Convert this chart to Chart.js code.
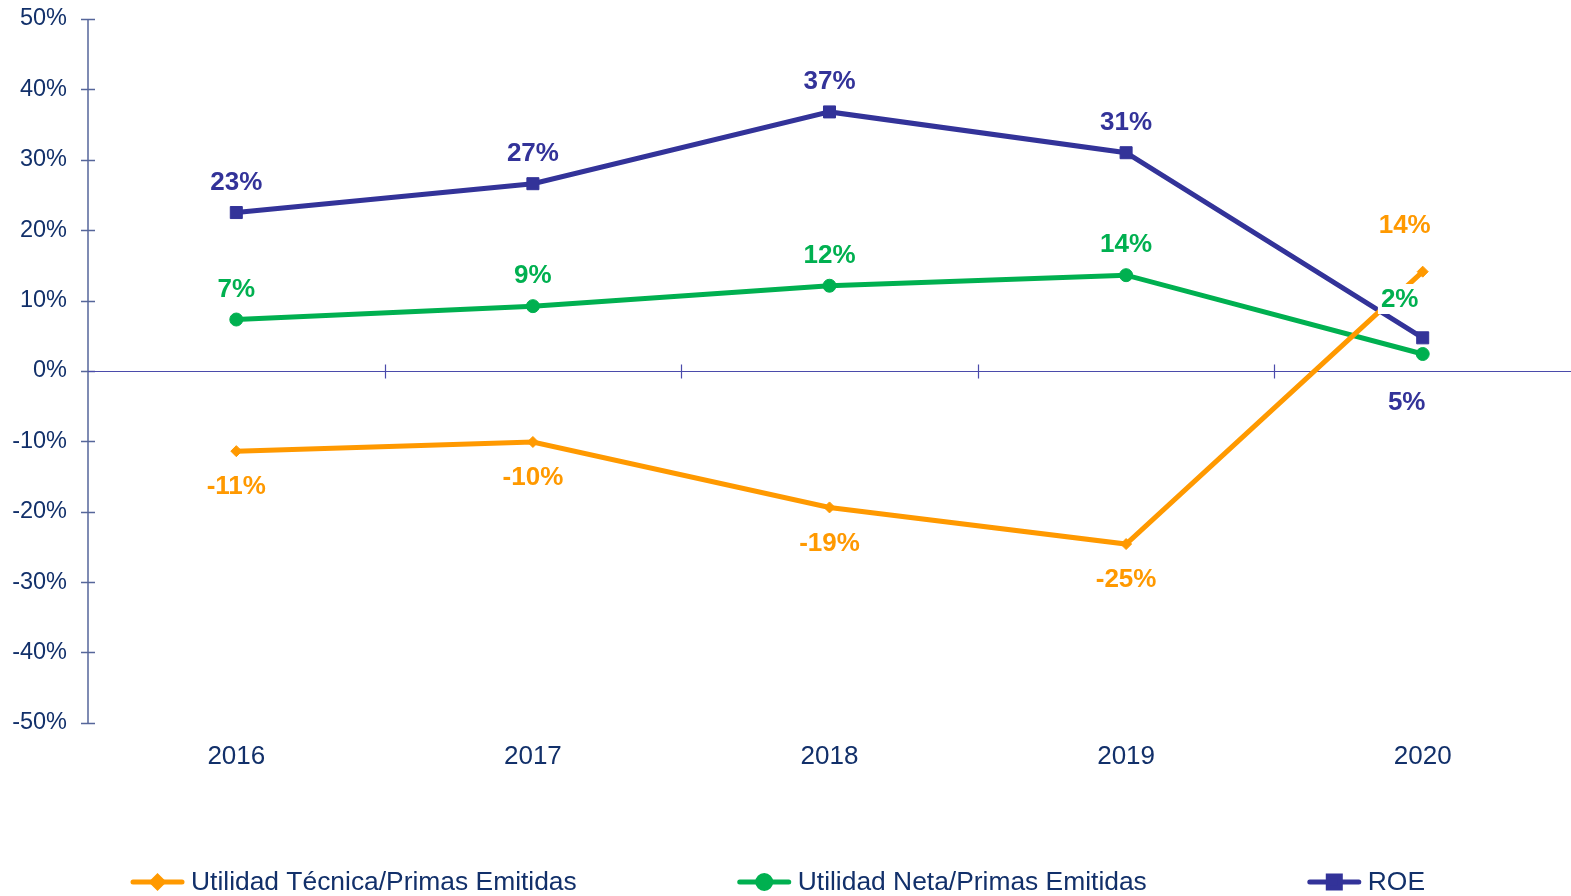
<!DOCTYPE html>
<html>
<head>
<meta charset="utf-8">
<script src="https://cdn.jsdelivr.net/npm/chart.js@4.4.0/dist/chart.umd.min.js"></script>
<style>
  html, body { margin: 0; padding: 0; background: #fff; overflow: hidden; }
  #wrap { width: 1571px; height: 896px; }
</style>
</head>
<body>
<div id="wrap"><canvas id="myChart"></canvas></div>
<script>
var years = ["2016", "2017", "2018", "2019", "2020"];
var seriesNames = ["Utilidad Técnica/Primas Emitidas", "Utilidad Neta/Primas Emitidas", "ROE"];
var utilTecnica = [-11.4, -10.1, -19.4, -24.6, 14.1];
var utilNeta = [7.3, 9.2, 12.1, 13.6, 2.4];
var roe = [22.5, 26.6, 36.8, 31.0, 4.7];
var yMin = -50, yMax = 50, yStep = 10;

var textColor = "#12306a";
var colors = ["#ff9900", "#00b050", "#333399"];
var FONT = "'Liberation Sans', Arial, sans-serif";

// label offsets (dx, dy) from each point, like the hand moved labels in the original
var labelOffsets = [
  [[0, 35], [0, 35], [0, 35], [0, 35], [-18, -47]],
  [[0, -31], [0, -31], [0, -31], [0, -31], [-23, -55]],
  [[0, -31], [0, -31], [0, -31], [0, -31], [-16, 64]]
];

var axesAndLabels = {
  id: "axesAndLabels",
  beforeDatasetsDraw: function(chart) {
    var ctx = chart.ctx, a = chart.chartArea;
    var x = chart.scales.x, y = chart.scales.y;
    ctx.save();
    // y axis line + ticks
    ctx.strokeStyle = "#56669a";
    ctx.lineWidth = 1.5;
    ctx.beginPath();
    ctx.moveTo(a.left, a.top);
    ctx.lineTo(a.left, a.bottom);
    for (var v = yMin; v <= yMax; v += yStep) {
      var py = Math.round(y.getPixelForValue(v)) + 0.5;
      ctx.moveTo(a.left - 7, py);
      ctx.lineTo(a.left + 7, py);
    }
    ctx.stroke();
    // zero line + category ticks
    var y0 = Math.round(y.getPixelForValue(0)) + 0.5;
    ctx.strokeStyle = "#4b4bab";
    ctx.lineWidth = 1.2;
    ctx.beginPath();
    ctx.moveTo(a.left, y0);
    ctx.lineTo(a.right, y0);
    for (var i = 0; i < years.length - 1; i++) {
      var px = Math.round((x.getPixelForValue(i) + x.getPixelForValue(i + 1)) / 2) + 0.5;
      ctx.moveTo(px, y0 - 7);
      ctx.lineTo(px, y0 + 7);
    }
    ctx.stroke();
    ctx.restore();
  },
  afterDatasetsDraw: function(chart) {
    var ctx = chart.ctx;
    ctx.save();
    ctx.font = "bold 26px " + FONT;
    ctx.textAlign = "center";
    ctx.textBaseline = "middle";
    chart.data.datasets.forEach(function(ds, di) {
      var meta = chart.getDatasetMeta(di);
      meta.data.forEach(function(pt, i) {
        var txt = Math.round(ds.data[i]) + "%";
        var off = labelOffsets[di][i];
        var cx = pt.x + off[0], cy = pt.y + off[1];
        var w = ctx.measureText(txt).width;
        ctx.fillStyle = "#ffffff";
        ctx.fillRect(cx - w / 2 - 3, cy - 15, w + 6, 30);
        ctx.fillStyle = ds.borderColor;
        ctx.fillText(txt, cx, cy + 1);
      });
    });
    ctx.restore();
  },
  afterDraw: function(chart) {
    // legend: line with marker, text, equal gaps
    var ctx = chart.ctx;
    var symW = 55, symGap = 6, itemGap = 160;
    ctx.save();
    ctx.font = "26.4px " + FONT;
    var widths = seriesNames.map(function(n) { return symW + symGap + ctx.measureText(n).width; });
    var total = widths.reduce(function(s, w) { return s + w; }, 0) + itemGap * (widths.length - 1);
    var x0 = chart.width / 2 - 8 - total / 2;
    var ly = 882;
    seriesNames.forEach(function(name, i) {
      var ds = chart.data.datasets[i];
      ctx.strokeStyle = ds.borderColor;
      ctx.fillStyle = ds.borderColor;
      ctx.lineWidth = 5;
      ctx.lineCap = "round";
      ctx.beginPath();
      ctx.moveTo(x0 + 3, ly);
      ctx.lineTo(x0 + symW - 3, ly);
      ctx.stroke();
      Chart.helpers.drawPoint(ctx, {
        pointStyle: ds.pointStyle, radius: ds.pointRadius, rotation: 0, borderWidth: 1
      }, x0 + symW / 2, ly);
      ctx.fillStyle = textColor;
      ctx.textAlign = "left";
      ctx.textBaseline = "middle";
      ctx.fillText(name, x0 + symW + symGap, ly + 1);
      x0 += widths[i] + itemGap;
    });
    ctx.restore();
  }
};

Chart.defaults.font.family = FONT;
Chart.defaults.color = textColor;

function lineSet(label, data, color, style, radius, order) {
  return {
    label: label,
    data: data,
    borderColor: color,
    backgroundColor: color,
    pointBackgroundColor: color,
    pointBorderColor: color,
    borderWidth: 5,
    pointStyle: style,
    pointRadius: radius,
    pointHoverRadius: radius,
    pointBorderWidth: 1,
    tension: 0,
    order: order
  };
}

new Chart("myChart", {
  type: "line",
  data: {
    labels: years,
    datasets: [
      lineSet(seriesNames[0], utilTecnica, colors[0], "rectRot", 5.5, 0),
      lineSet(seriesNames[1], utilNeta, colors[1], "circle", 6.5, 2),
      lineSet(seriesNames[2], roe, colors[2], "rect", 8.5, 1)
    ]
  },
  plugins: [axesAndLabels],
  options: {
    responsive: true,
    maintainAspectRatio: false,
    animation: false,
    events: [],
    layout: { autoPadding: false, padding: { top: 19, right: 0, left: 0, bottom: 106 } },
    plugins: {
      legend: { display: false },
      tooltip: { enabled: false }
    },
    scales: {
      x: {
        offset: true,
        afterFit: function(s) { s.paddingLeft = 0; s.paddingRight = 0; },
        grid: { display: false, drawTicks: false },
        border: { display: false },
        ticks: { font: { size: 26 }, color: textColor, padding: 18, maxRotation: 0 }
      },
      y: {
        min: yMin,
        max: yMax,
        afterFit: function(s) { s.width = 88; s.paddingTop = 0; s.paddingBottom = 0; },
        grid: { display: false, drawTicks: false },
        border: { display: false },
        ticks: {
          stepSize: yStep,
          padding: 21,
          font: { size: 23.5 },
          color: textColor,
          callback: function(v) { return v + "%"; }
        }
      }
    }
  }
});
</script>
</body>
</html>
